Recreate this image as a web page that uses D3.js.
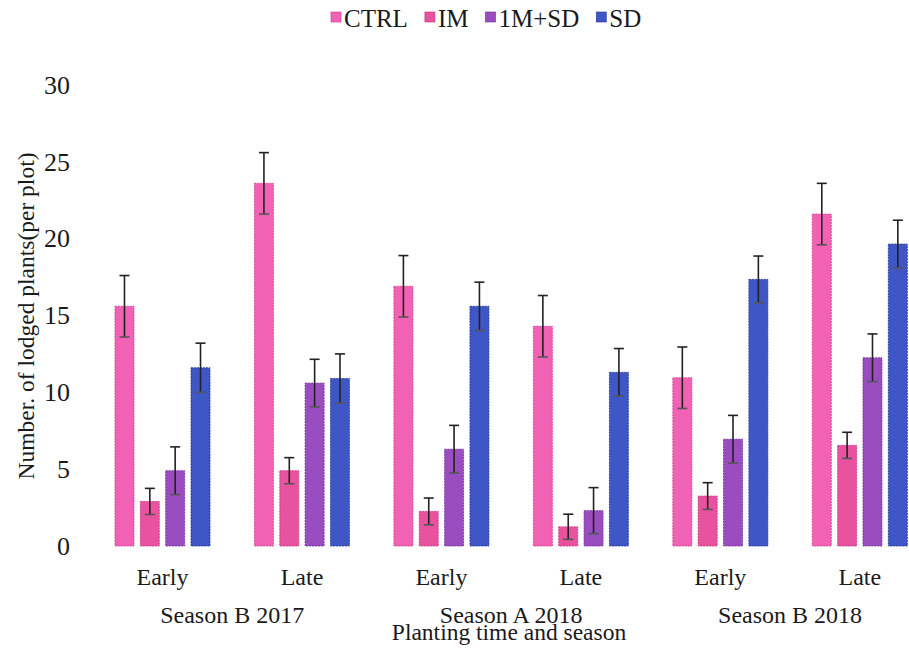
<!DOCTYPE html>
<html>
<head>
<meta charset="utf-8">
<script src="https://cdn.jsdelivr.net/npm/d3@7/dist/d3.min.js"></script>
<style>
  html, body { margin: 0; padding: 0; background: #ffffff; }
  svg { display: block; }
</style>
</head>
<body>
<svg id="chart" width="909" height="651"></svg>
<script>
// ---- data ----
const groups = ["Early|Season B 2017", "Late|Season B 2017", "Early|Season A 2018", "Late|Season A 2018", "Early|Season B 2018", "Late|Season B 2018"];
const timeLabels = ["Early", "Late", "Early", "Late", "Early", "Late"];
const seasonLabels = ["Season B 2017", "Season A 2018", "Season B 2018"];
const seriesNames = ["CTRL", "IM", "1M+SD", "SD"];
const ctrlValues = [15.6, 23.6, 16.9, 14.3, 10.95, 21.6];
const imValues = [2.9, 4.9, 2.25, 1.25, 3.25, 6.55];
const imsdValues = [4.9, 10.6, 6.3, 2.3, 6.95, 12.25];
const sdValues = [11.6, 10.9, 15.6, 11.3, 17.35, 19.65];
const ctrlErr = [2.0, 2.0, 2.0, 2.0, 2.0, 2.0];
const imErr = [0.85, 0.85, 0.87, 0.82, 0.87, 0.85];
const imsdErr = [1.55, 1.55, 1.55, 1.5, 1.55, 1.55];
const sdErr = [1.6, 1.6, 1.57, 1.55, 1.52, 1.55];
const yTicks = [0, 5, 10, 15, 20, 25, 30];
const yLabel = "Number. of lodged plants(per plot)";
const xLabel = "Planting time and season";

const seriesValues = [ctrlValues, imValues, imsdValues, sdValues];
const seriesErr = [ctrlErr, imErr, imsdErr, sdErr];
const colors = ["#f262b4", "#e9529f", "#9a4dbf", "#3f57c6"];
const strokes = ["#d2378f", "#c4307f", "#6f2c9a", "#25348f"];
const FONT = "'Liberation Serif', 'Times New Roman', serif";

const svg = d3.select("#chart");

const x = d3.scaleBand().domain(groups).range([92.8, 929.5]).paddingInner(0.3185).paddingOuter(0.159);
const xs = d3.scaleBand().domain(seriesNames).range([0, x.bandwidth()]).paddingInner(0.25).paddingOuter(0);
const y = d3.scaleLinear().domain([0, 30]).range([546, 85]);

// y tick labels
const yAxis = d3.axisLeft(y).tickValues(yTicks).tickSize(0).tickPadding(0);
const gy = svg.append("g").attr("transform", "translate(70,0)").call(yAxis);
gy.attr("font-family", null).attr("font-size", null);
gy.select(".domain").remove();
gy.selectAll("text").style("font-family", FONT).style("font-size", "26px").attr("fill", "#1a1a1a");

// bars
const rows = [];
groups.forEach((g, gi) => {
  seriesNames.forEach((s, si) => {
    rows.push({ g, s, si, v: seriesValues[si][gi], e: seriesErr[si][gi] });
  });
});

const barG = svg.append("g");
barG.selectAll("rect").data(rows).enter().append("rect")
  .attr("x", d => x(d.g) + xs(d.s))
  .attr("y", d => y(d.v))
  .attr("width", xs.bandwidth())
  .attr("height", d => y(0) - y(d.v))
  .attr("fill", d => colors[d.si])
  .attr("stroke", d => strokes[d.si])
  .attr("stroke-width", 0.8)
  .attr("stroke-dasharray", "2,1");

// error bars
const eb = svg.append("g").attr("stroke", "#222").attr("stroke-width", 1.6);
const cap = 5;
rows.forEach(d => {
  const cx = x(d.g) + xs(d.s) + xs.bandwidth() / 2;
  const yt = y(d.v + d.e), yb = y(d.v - d.e);
  eb.append("line").attr("x1", cx).attr("x2", cx).attr("y1", yt).attr("y2", yb);
  eb.append("line").attr("x1", cx - cap).attr("x2", cx + cap).attr("y1", yt).attr("y2", yt);
  eb.append("line").attr("x1", cx - cap).attr("x2", cx + cap).attr("y1", yb).attr("y2", yb).attr("stroke", "#555");
});

// x labels
const xAxis = d3.axisBottom(x).tickFormat((d, i) => timeLabels[i]).tickSize(0).tickPadding(0);
const gx = svg.append("g").attr("transform", "translate(0,566)").call(xAxis);
gx.attr("font-family", null).attr("font-size", null);
gx.select(".domain").remove();
gx.selectAll("text").attr("dy", "0.8em").style("font-family", FONT).style("font-size", "24px").attr("fill", "#1a1a1a");

seasonLabels.forEach((s, i) => {
  const c = (x(groups[2 * i]) + x(groups[2 * i + 1]) + x.bandwidth()) / 2;
  svg.append("text").attr("x", c).attr("y", 623).attr("text-anchor", "middle")
    .style("font-family", FONT).style("font-size", "24px").attr("fill", "#1a1a1a").text(s);
});

svg.append("text").attr("x", 509).attr("y", 640).attr("text-anchor", "middle")
  .style("font-family", FONT).style("font-size", "23.5px").attr("fill", "#1a1a1a").text(xLabel);

svg.append("text").attr("transform", "translate(34,316) rotate(-90)").attr("text-anchor", "middle")
  .style("font-family", FONT).style("font-size", "23.5px").attr("fill", "#1a1a1a").text(yLabel);

// legend
const leg = svg.append("g");
let lx = 331;
seriesNames.forEach((s, i) => {
  leg.append("rect").attr("x", lx).attr("y", 12).attr("width", 10).attr("height", 10)
    .attr("fill", colors[i]).attr("stroke", strokes[i]).attr("stroke-width", 0.6);
  const t = leg.append("text").attr("x", lx + 13).attr("y", 27)
    .style("font-family", FONT).style("font-size", "25px").attr("fill", "#1a1a1a").text(s);
  lx += 13 + t.node().getComputedTextLength() + 17;
});
</script>
</body>
</html>
